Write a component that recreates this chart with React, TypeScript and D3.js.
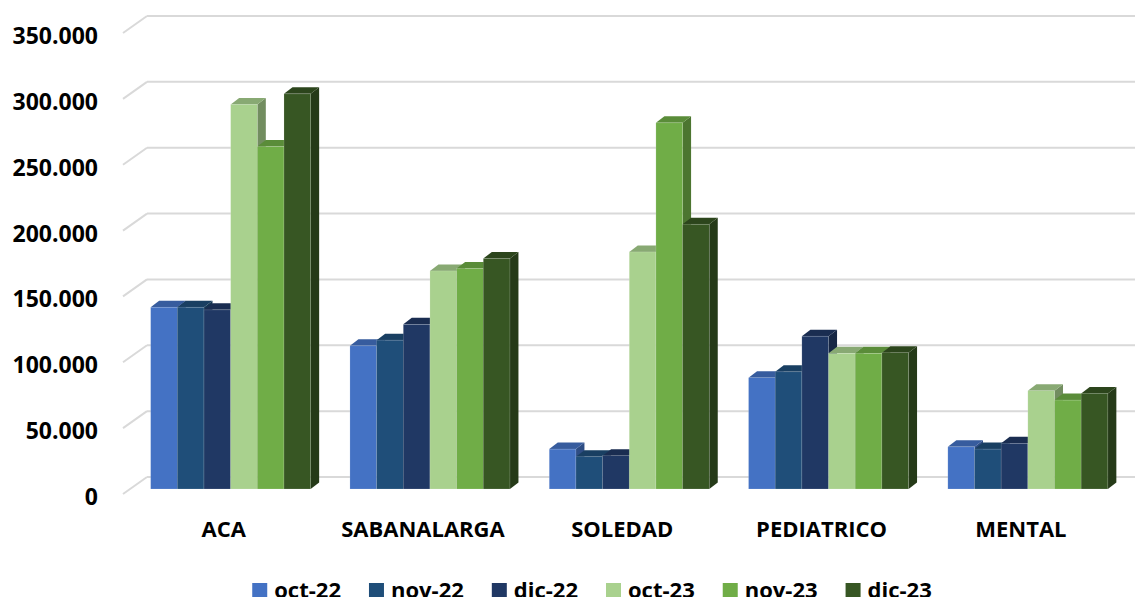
import React, { useEffect, useRef } from 'react';
import * as d3 from 'd3';

const categories = ['ACA', 'SABANALARGA', 'SOLEDAD', 'PEDIATRICO', 'MENTAL'];
const seriesNames = ['oct-22', 'nov-22', 'dic-22', 'oct-23', 'nov-23', 'dic-23'];
const seriesColors = ['#4472C4', '#1F4E79', '#203864', '#A9D18E', '#70AD47', '#375623'];

// values per series, in category order
const oct22 = [138000, 108700, 30300, 84500, 32000];
const nov22 = [138000, 113000, 24500, 89000, 30300];
const dic22 = [136000, 125000, 25300, 116000, 34700];
const oct23 = [292000, 165600, 180000, 103000, 74600];
const nov23 = [260000, 167400, 278000, 103000, 67500];
const dic23 = [300000, 175000, 201000, 103500, 72600];
const seriesValues = [oct22, nov22, dic22, oct23, nov23, dic23];

const yTicks = [0, 50000, 100000, 150000, 200000, 250000, 300000, 350000];

const W = 1135;
const H = 597;

const App: React.FC = () => {
    const svgRef = useRef<SVGSVGElement | null>(null);

    useEffect(() => {
        document.body.style.margin = '0';
        if (!svgRef.current) return;
        const svg = d3.select(svgRef.current);
        svg.selectAll('*').remove();

        const font = '"Open Sans", sans-serif';
        const locale = d3.formatLocale({ decimal: ',', thousands: '.', grouping: [3], currency: ['$', ''] });
        const fmt = locale.format(',d');

        // front floor plane
        const floorLeft = 123;
        const bandW = 199.3;
        const wall = { dx: 24, dy: -17 };      // depth to the back wall
        const barPlane = { dx: 8, dy: -5 };    // where bar fronts sit
        const barDepth = { dx: 8.5, dy: -6.5 };

        const y = d3.scaleLinear().domain([0, 350000]).range([494, 33]);
        const x0 = d3.scaleBand<string>()
            .domain(categories)
            .range([floorLeft, floorLeft + bandW * categories.length])
            .padding(0);
        const groupW = 160;
        const x1 = d3.scaleBand<string>().domain(seriesNames).range([0, groupW]).padding(0);

        // back wall grid + left wall diagonals
        const grid = svg.append('g');
        yTicks.forEach((t) => {
            const yf = y(t);
            grid.append('line')
                .attr('x1', floorLeft + wall.dx).attr('x2', W)
                .attr('y1', yf + wall.dy).attr('y2', yf + wall.dy)
                .style('stroke', '#d9d9d9').style('stroke-width', '2px');
            grid.append('line')
                .attr('x1', floorLeft).attr('x2', floorLeft + wall.dx)
                .attr('y1', yf).attr('y2', yf + wall.dy)
                .style('stroke', '#d9d9d9').style('stroke-width', '2px');
        });

        // tick labels
        svg.append('g')
            .selectAll('text')
            .data(yTicks)
            .enter()
            .append('text')
            .attr('x', 98)
            .attr('y', (d) => y(d) + 11)
            .attr('text-anchor', 'end')
            .style('font-family', font)
            .style('font-weight', 700)
            .style('font-size', '23px')
            .style('fill', '#000')
            .text((d) => fmt(d));

        // bars
        const bars = svg.append('g');
        categories.forEach((cat, ci) => {
            const cx = (x0(cat) as number) + x0.bandwidth() / 2 + barPlane.dx;
            const start = cx - groupW / 2;
            seriesNames.forEach((s, si) => {
                const v = seriesValues[si][ci];
                const xl = start + (x1(s) as number);
                const xr = xl + x1.bandwidth();
                const yb = y(0) + barPlane.dy;
                const yt = y(v) + barPlane.dy;
                const base = d3.color(seriesColors[si]) as d3.RGBColor;
                const g = bars.append('g');
                // side face
                g.append('path')
                    .attr('d', `M${xr},${yb}L${xr + barDepth.dx},${yb + barDepth.dy}L${xr + barDepth.dx},${yt + barDepth.dy}L${xr},${yt}Z`)
                    .style('fill', base.darker(1.1).toString());
                // top face
                g.append('path')
                    .attr('d', `M${xl},${yt}L${xl + barDepth.dx},${yt + barDepth.dy}L${xr + barDepth.dx},${yt + barDepth.dy}L${xr},${yt}Z`)
                    .style('fill', base.darker(0.6).toString());
                // front face
                g.append('rect')
                    .attr('x', xl)
                    .attr('y', yt)
                    .attr('width', xr - xl)
                    .attr('height', yb - yt)
                    .style('fill', seriesColors[si])
                    .style('stroke', 'rgba(255,255,255,0.25)')
                    .style('stroke-width', '0.6px');
            });
        });

        // category labels
        svg.append('g')
            .selectAll('text')
            .data(categories)
            .enter()
            .append('text')
            .attr('x', (d) => (x0(d) as number) + x0.bandwidth() / 2 + 1)
            .attr('y', 537)
            .attr('text-anchor', 'middle')
            .style('font-family', font)
            .style('font-weight', 700)
            .style('font-size', '22px')
            .style('fill', '#000')
            .text((d) => d);

        // legend
        const legend = svg.append('g');
        const sq = 15;
        const gap = 7;
        const itemGap = 28;
        const items = seriesNames.map((name, i) => {
            const g = legend.append('g');
            g.append('rect')
                .attr('width', sq).attr('height', sq)
                .attr('y', 583)
                .style('fill', seriesColors[i]);
            const t = g.append('text')
                .attr('x', sq + gap)
                .attr('y', 598)
                .style('font-family', font)
                .style('font-weight', 700)
                .style('font-size', '22px')
                .style('fill', '#000')
                .text(name);
            const tw = (t.node() as SVGTextElement).getComputedTextLength();
            return { g, w: sq + gap + tw };
        });
        const total = d3.sum(items, (d) => d.w) + itemGap * (items.length - 1);
        let cur = 592 - total / 2;
        items.forEach((it) => {
            it.g.attr('transform', `translate(${cur},0)`);
            cur += it.w + itemGap;
        });
    }, []);

    return <svg ref={svgRef} width={W} height={H} style={{ display: 'block' }} />;
};

export default App;
